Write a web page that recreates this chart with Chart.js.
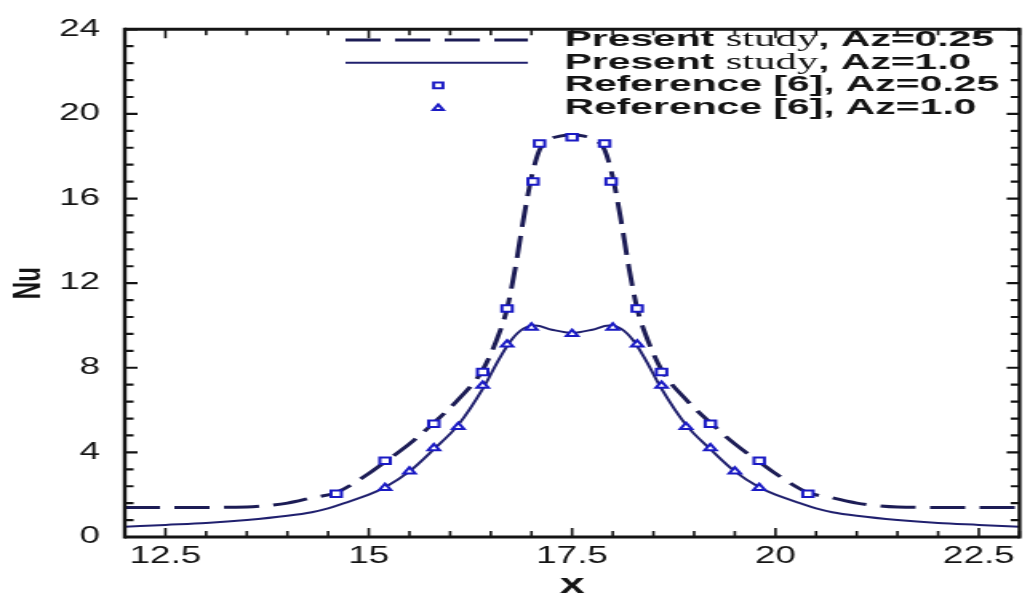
<!DOCTYPE html>
<html>
<head>
<meta charset="utf-8">
<script src="https://cdn.jsdelivr.net/npm/chart.js@4.4.1/dist/chart.umd.min.js"></script>
<style>
html, body { margin: 0; padding: 0; background: #fff; overflow: hidden; }
#wrap { width: 644px; height: 597px; transform: scaleX(1.5994); transform-origin: 0 0; }
</style>
</head>
<body>
<div id="wrap"><canvas id="nuChart" width="644" height="597"></canvas></div>
<script>
var xLineA = [12.0, 13.0, 13.5, 13.8, 14.0, 14.3, 14.6, 15.0, 15.2, 15.5, 15.8, 16.1, 16.4, 16.6, 16.7, 16.8, 16.9, 17.0, 17.1, 17.2, 17.35, 17.5, 17.65, 17.8, 17.9, 18.0, 18.1, 18.2, 18.3, 18.4, 18.6, 18.9, 19.2, 19.5, 19.8, 20.0, 20.4, 20.7, 21.0, 21.2, 21.5, 22.0, 23.0];
var nuLineA = [1.4, 1.4, 1.42, 1.5, 1.6, 1.85, 2.1, 3.0, 3.55, 4.4, 5.4, 6.5, 7.9, 9.6, 10.8, 12.7, 15.0, 17.0, 18.3, 18.75, 18.95, 19.0, 18.95, 18.75, 18.3, 17.0, 15.0, 12.7, 10.8, 9.6, 7.9, 6.5, 5.4, 4.4, 3.55, 3.0, 2.1, 1.85, 1.6, 1.5, 1.42, 1.4, 1.4];

var xLineB = [12.0, 12.5, 13.0, 13.5, 14.0, 14.3, 14.5, 14.7, 15.0, 15.2, 15.5, 15.8, 16.1, 16.4, 16.6, 16.75, 16.9, 17.05, 17.25, 17.5, 17.75, 17.95, 18.1, 18.25, 18.4, 18.6, 18.9, 19.2, 19.5, 19.8, 20.0, 20.3, 20.5, 20.7, 21.0, 21.5, 22.0, 22.5, 23.0];
var nuLineB = [0.48, 0.57, 0.66, 0.8, 1.0, 1.17, 1.35, 1.6, 2.0, 2.35, 3.1, 4.15, 5.3, 7.0, 8.4, 9.3, 9.85, 10.0, 9.8, 9.65, 9.8, 10.0, 9.85, 9.3, 8.4, 7.0, 5.3, 4.15, 3.1, 2.35, 2.0, 1.6, 1.35, 1.17, 1.0, 0.8, 0.66, 0.57, 0.48];

var xRefA = [14.6, 15.2, 15.8, 16.4, 16.7, 17.02, 17.1, 17.5, 17.9, 17.98, 18.3, 18.6, 19.2, 19.8, 20.4];
var nuRefA = [2.05, 3.6, 5.35, 7.8, 10.8, 16.8, 18.6, 18.9, 18.6, 16.8, 10.8, 7.8, 5.35, 3.6, 2.05];

var xRefB = [15.2, 15.5, 15.8, 16.1, 16.4, 16.7, 17.0, 17.5, 18.0, 18.3, 18.6, 18.9, 19.2, 19.5, 19.8];
var nuRefB = [2.32, 3.1, 4.2, 5.2, 7.15, 9.1, 9.9, 9.6, 9.9, 9.1, 7.15, 5.2, 4.2, 3.1, 2.32];

var xTicks = [12.5, 15, 17.5, 20, 22.5];
var yTicks = [0, 4, 8, 12, 16, 20, 24];
var seriesLabels = ['Present study, Az=0.25', 'Present study, Az=1.0', 'Reference [6], Az=0.25', 'Reference [6], Az=1.0'];

var sans = '"Liberation Sans", Arial, Helvetica, sans-serif';
var serif = '"Liberation Serif", "Times New Roman", serif';
var dashNavy = '#1c1c55';
var lineNavy = '#20206e';
var markerBlue = '#1a1ac4';
var ink = '#141414';

function pts(xs, ys) {
  return xs.map(function(x, i) { return { x: x, y: ys[i] }; });
}

// box round the plot with inward major and minor ticks, as in the original figure
var frame = {
  id: 'frame',
  afterDatasetsDraw: function(chart) {
    var ctx = chart.ctx, a = chart.chartArea, xs = chart.scales.x, ys = chart.scales.y;
    var k, p, len;
    ctx.save();
    ctx.strokeStyle = ink;
    ctx.lineWidth = 1.6;
    ctx.beginPath();
    for (k = Math.ceil(xs.min * 2); k <= xs.max * 2; k++) {
      p = xs.getPixelForValue(k / 2);
      len = (k % 5 === 0) ? 9 : 6;
      ctx.moveTo(p, a.bottom); ctx.lineTo(p, a.bottom - len);
      ctx.moveTo(p, a.top); ctx.lineTo(p, a.top + len);
    }
    ctx.stroke();
    ctx.lineWidth = 2.2;
    ctx.beginPath();
    for (k = 0; k * 0.8 <= ys.max + 1e-9; k++) {
      p = ys.getPixelForValue(k * 0.8);
      len = (k % 5 === 0) ? 8 : 5.5;
      ctx.moveTo(a.left, p); ctx.lineTo(a.left + len, p);
      ctx.moveTo(a.right, p); ctx.lineTo(a.right - len, p);
    }
    ctx.stroke();
    ctx.lineWidth = 3;
    ctx.beginPath();
    ctx.moveTo(a.left, a.top); ctx.lineTo(a.right, a.top);
    ctx.moveTo(a.left, a.bottom); ctx.lineTo(a.right, a.bottom);
    ctx.stroke();
    ctx.lineWidth = 2.4;
    ctx.beginPath();
    ctx.moveTo(a.left, a.top - 1.5); ctx.lineTo(a.left, a.bottom + 1.5);
    ctx.moveTo(a.right, a.top - 1.5); ctx.lineTo(a.right, a.bottom + 1.5);
    ctx.stroke();
    ctx.restore();
  }
};

// legend drawn inside the plot; the word "study" is set in a serif face like the source
var innerLegend = {
  id: 'innerLegend',
  afterDraw: function(chart) {
    var ctx = chart.ctx;
    var x0 = 216, x1 = 330, xm = 274, xt = 353, y0 = 40, gap = 22.7, squeeze = 1.16;
    chart.data.datasets.forEach(function(ds, i) {
      var y = y0 + i * gap;
      ctx.save();
      if (ds.showLine !== false) {
        ctx.strokeStyle = ds.borderColor;
        ctx.lineWidth = ds.borderWidth;
        ctx.setLineDash(ds.borderDash || []);
        ctx.beginPath();
        ctx.moveTo(x0, y); ctx.lineTo(x1, y);
        ctx.stroke();
      } else {
        ctx.strokeStyle = ds.borderColor;
        ctx.fillStyle = '#fff';
        ctx.lineWidth = ds.pointBorderWidth;
        Chart.helpers.drawPoint(ctx, { pointStyle: ds.pointStyle, rotation: 0, radius: ds.pointRadius - 0.5, borderWidth: ds.pointBorderWidth }, xm, y);
      }
      ctx.restore();
      var parts = ds.label.split(/(study)/);
      var x = xt;
      parts.forEach(function(part) {
        if (!part) return;
        ctx.save();
        ctx.font = part === 'study' ? '23px ' + serif : 'bold 22px ' + sans;
        ctx.fillStyle = ink;
        ctx.textBaseline = 'middle';
        ctx.translate(x, y);
        ctx.scale(squeeze, 1);
        ctx.fillText(part, 0, 0);
        x += ctx.measureText(part).width * squeeze;
        ctx.restore();
      });
    });
  }
};

new Chart(document.getElementById('nuChart'), {
  type: 'line',
  data: {
    datasets: [
      {
        label: seriesLabels[0], data: pts(xLineA, nuLineA),
        borderColor: dashNavy, borderWidth: 3, borderDash: [22, 9],
        pointRadius: 0, cubicInterpolationMode: 'monotone', fill: false, order: 3
      },
      {
        label: seriesLabels[1], data: pts(xLineB, nuLineB),
        borderColor: lineNavy, borderWidth: 2,
        pointRadius: 0, cubicInterpolationMode: 'monotone', fill: false, order: 2
      },
      {
        label: seriesLabels[2], data: pts(xRefA, nuRefA), showLine: false,
        pointStyle: 'rect', pointRadius: 4.6, pointBorderWidth: 2,
        borderColor: markerBlue, pointBorderColor: markerBlue, pointBackgroundColor: '#fff', order: 1
      },
      {
        label: seriesLabels[3], data: pts(xRefB, nuRefB), showLine: false,
        pointStyle: 'triangle', pointRadius: 4.2, pointBorderWidth: 2,
        borderColor: markerBlue, pointBorderColor: markerBlue, pointBackgroundColor: '#fff', order: 0
      }
    ]
  },
  options: {
    responsive: false,
    animation: false,
    devicePixelRatio: 1,
    layout: { padding: { top: 20, right: 2, left: 0, bottom: 0 } },
    plugins: { legend: { display: false }, tooltip: { enabled: false } },
    scales: {
      x: {
        type: 'linear', min: 12, max: 23,
        grid: { display: false, drawTicks: false },
        border: { display: false },
        afterBuildTicks: function(s) { s.ticks = xTicks.map(function(v) { return { value: v }; }); },
        afterFit: function(s) { s.height = 60; },
        ticks: {
          font: { family: sans, size: 23 }, color: ink, padding: 6,
          maxRotation: 0, autoSkip: false,
          callback: function(v) { return String(v); }
        },
        title: { display: true, text: 'x', color: ink, padding: { top: 0, bottom: -2 }, font: { family: sans, size: 28, weight: 'bold', lineHeight: 1 } }
      },
      y: {
        type: 'linear', min: 0, max: 24,
        grid: { display: false, drawTicks: false },
        border: { display: false },
        afterBuildTicks: function(s) { s.ticks = yTicks.map(function(v) { return { value: v }; }); },
        afterFit: function(s) { s.width = 78; },
        ticks: {
          font: { family: sans, size: 23 }, color: ink, padding: 15.5,
          callback: function(v) { return String(v); }
        },
        title: { display: true, text: 'Nu', color: ink, padding: { top: 4, bottom: 0 }, font: { family: sans, size: 24, weight: 'bold' } }
      }
    }
  },
  plugins: [frame, innerLegend]
});
</script>
</body>
</html>
